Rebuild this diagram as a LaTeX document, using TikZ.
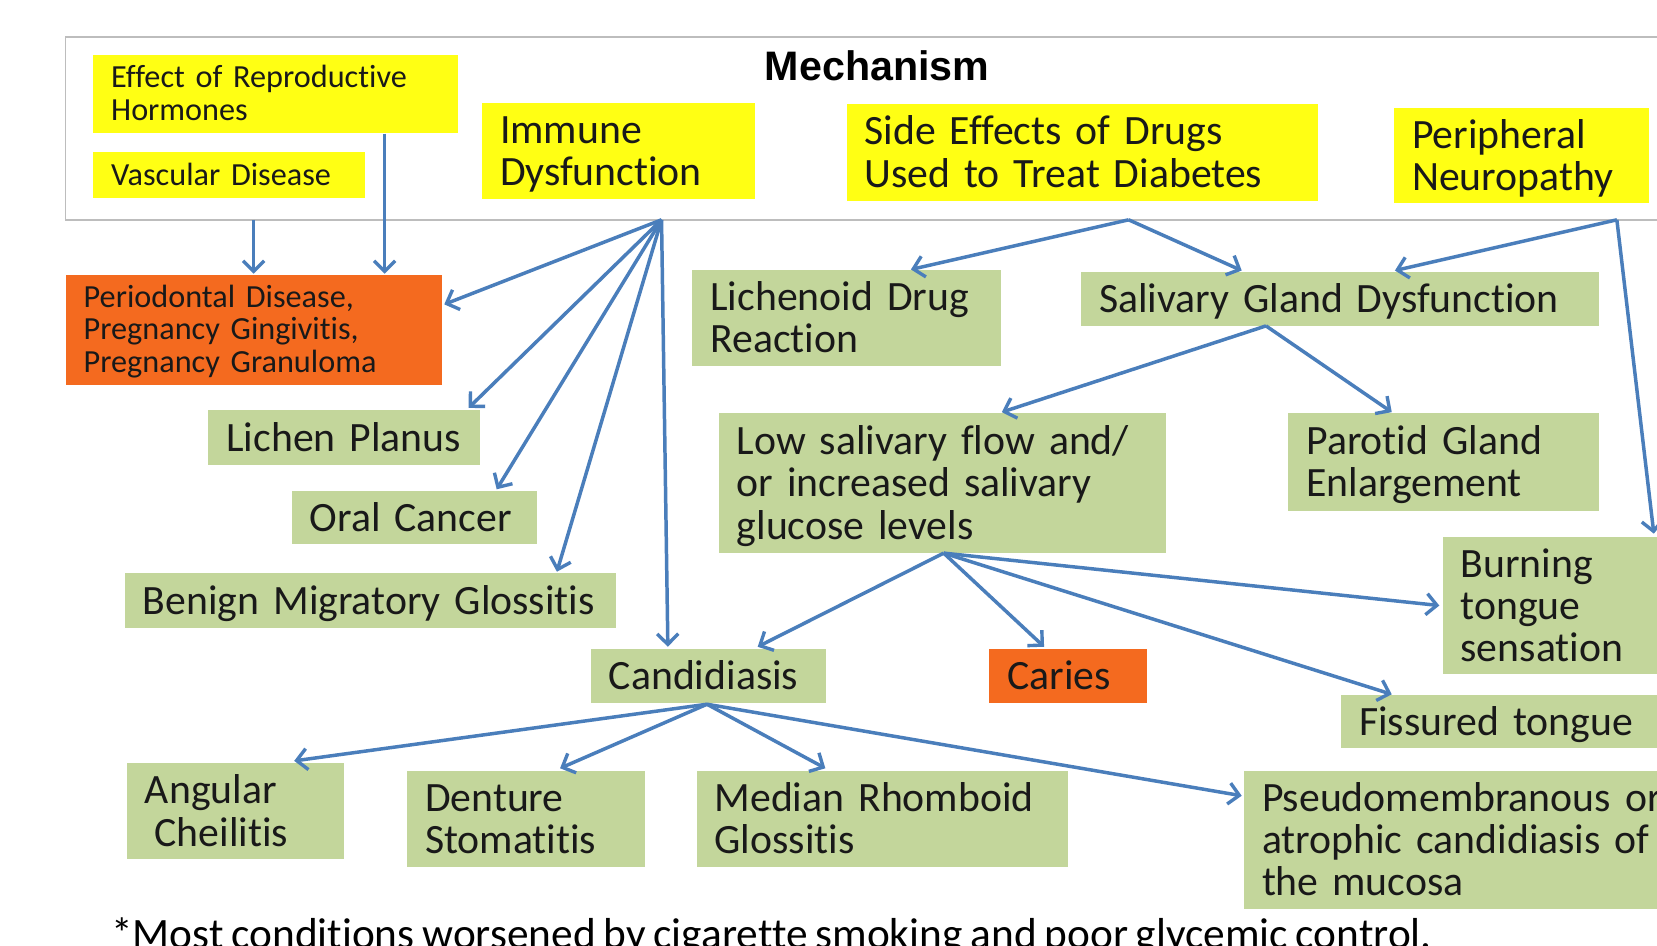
\documentclass[tikz,border=0pt]{standalone}
\usepackage{fontspec}
\setmainfont{Carlito}[Ligatures=NoCommon, WordSpace=0.8]
\newfontfamily\titlefont{Liberation Sans}
\usetikzlibrary{arrows.meta,calc}
\definecolor{ybox}{HTML}{FFFF14}
\definecolor{gbox}{HTML}{C3D69B}
\definecolor{obox}{HTML}{F46A1F}
\definecolor{arrowblue}{HTML}{4A7EBB}
\definecolor{framegray}{HTML}{BDBDBD}
\newcommand\bigf{\fontsize{39.5}{40}\selectfont\lineskiplimit=-100pt}
\newcommand\smallf{\fontsize{30.5}{31}\selectfont\lineskiplimit=-100pt}
\tikzset{
  boxbase/.style={anchor=north west, align=left, inner xsep=17pt, inner ysep=0pt, text=black!90},
  yb/.style={boxbase, fill=ybox},
  gb/.style={boxbase, fill=gbox, font=\bigf},
  ob/.style={boxbase, fill=obox},
  bl1/.style={text height=27pt, text depth=1pt},
  bl2/.style={text height=27pt, text depth=41pt},
  bl3/.style={text height=27pt, text depth=81pt},
  sl1/.style={text height=20pt, text depth=1pt},
  sl2/.style={text height=20pt, text depth=32pt},
  sl3/.style={text height=20pt, text depth=63pt},
  arr/.style={draw=arrowblue, line width=3.3pt, -{Straight Barb[length=10pt,width=20pt,line width=3.2pt]}},
}
\begin{document}
\begin{tikzpicture}[x=1pt,y=-1pt]
\clip (0,0) rectangle (1568,895);
\fill[white] (0,0) rectangle (1568,895);
% mechanism frame
\draw[framegray, line width=1.6pt] (1600,35) -- (62,35) -- (62,208) -- (1600,208);
\node[font=\titlefont\bfseries\fontsize{39}{40}\selectfont, anchor=center] (title) at (830,62) {Mechanism};
% yellow mechanism boxes
\node[yb, sl2, font=\smallf, text width=311pt, minimum height=74pt] (eff) at (88,52) {Effect of Reproductive\\Hormones};
\node[yb, sl1, font=\smallf, text width=223pt, minimum height=43pt] (vasc) at (88,144) {Vascular Disease};
\node[yb, bl2, font=\bigf, text width=224pt, minimum height=91pt] (imm) at (456,97) {Immune\\Dysfunction};
\node[yb, bl2, font=\bigf, text width=412pt, minimum height=92pt] (side) at (801,98) {Side Effects of Drugs\\Used to Treat Diabetes};
\node[yb, bl2, font=\bigf, text width=207pt, minimum height=90pt] (peri) at (1319,102) {Peripheral\\Neuropathy};
% hubs on frame bottom
\coordinate (vhub) at (240,208);
\coordinate (ihub) at (626,208);
\coordinate (shub) at (1068,208);
\coordinate (phub) at (1530,208);
% conditions
\node[ob, sl3, font=\smallf, text width=322pt, minimum height=104pt] (perio) at (62,260) {Periodontal Disease,\\Pregnancy Gingivitis,\\Pregnancy Granuloma};
\node[gb, bl1, text width=223pt, minimum height=52pt] (lp) at (197,388) {Lichen Planus};
\node[gb, bl1, text width=198pt, minimum height=51pt] (oc) at (276,464) {Oral Cancer};
\node[gb, bl1, text width=431pt, minimum height=52pt] (bmg) at (118,542) {Benign Migratory Glossitis};
\node[gb, bl2, text width=258pt, minimum height=91pt] (lich) at (655,255) {Lichenoid Drug\\Reaction};
\node[gb, bl1, text width=456pt, minimum height=51pt] (sal) at (1023,257) {Salivary Gland Dysfunction};
\node[gb, bl3, text width=389pt, minimum height=132pt] (low) at (680,391) {Low salivary flow and/\\or increased salivary\\glucose levels};
\node[gb, bl2, text width=260pt, minimum height=92pt] (par) at (1219,391) {Parotid Gland\\Enlargement};
\node[gb, bl3, text width=200pt, minimum height=130pt] (burn) at (1365,508) {Burning\\tongue\\sensation};
\node[gb, bl1, text width=188pt, minimum height=51pt] (cand) at (559,614) {Candidiasis};
\node[ob, bl1, font=\bigf, text width=115pt, minimum height=51pt] (car) at (936,614) {Caries};
\node[gb, bl1, text width=300pt, minimum height=51pt] (fis) at (1269,657) {Fissured tongue};
\node[gb, bl2, text width=171pt, minimum height=91pt] (ang) at (120,722) {Angular\\\hspace*{9pt}Cheilitis};
\node[gb, bl2, text width=191pt, minimum height=91pt] (den) at (385,729) {Denture\\Stomatitis};
\node[gb, bl2, text width=317pt, minimum height=91pt] (med) at (659,729) {Median Rhomboid\\Glossitis};
\node[gb, bl3, text width=420pt, minimum height=131pt] (pse) at (1177,729) {Pseudomembranous or\\atrophic candidiasis of\\the mucosa};
% footnote
\node[font=\fontsize{41}{42}\selectfont, anchor=base west, inner sep=0pt] (note) at (105,898) {*Most conditions worsened by cigarette smoking and poor glycemic control.};
% arrows
\draw[arr] (vhub) -- ($(perio.north west)+(178,-1)$);
\draw[arr] ($(eff.south west)+(276,0)$) -- ($(perio.north west)+(302,-1)$);
\draw[arr] (ihub) -- ($(perio.north east)+(2,28)$);
\draw[arr] (ihub) -- ($(lp.north east)+(-11,-2)$);
\draw[arr] (ihub) -- ($(oc.north west)+(194,-1)$);
\draw[arr] (ihub) -- ($(bmg.north west)+(409,-1)$);
\draw[arr] (ihub) -- ($(cand.north west)+(73,-2)$);
\draw[arr] (shub) -- ($(lich.north west)+(207,0)$);
\draw[arr] (shub) -- ($(sal.north west)+(152,-1)$);
\draw[arr] (phub) -- ($(sal.north west)+(297,-1)$);
\draw[arr] (phub) -- ($(burn.north west)+(200,-3)$);
\draw[arr] ($(sal.south west)+(175,0)$) -- ($(low.north west)+(268,-1)$);
\draw[arr] ($(sal.south west)+(175,0)$) -- ($(par.north west)+(98,-1)$);
\draw[arr] ($(low.south west)+(213,0)$) -- ($(cand.north west)+(158,-2)$);
\draw[arr] ($(low.south west)+(213,0)$) -- ($(car.north west)+(52,-2)$);
\draw[arr] ($(low.south west)+(213,0)$) -- ($(burn.north west)+(-3,65)$);
\draw[arr] ($(low.south west)+(213,0)$) -- ($(fis.north west)+(48,0)$);
\draw[arr] ($(cand.south west)+(110,1)$) -- ($(ang.north east)+(-47,-2)$);
\draw[arr] ($(cand.south west)+(110,1)$) -- ($(den.north west)+(145,-2)$);
\draw[arr] ($(cand.south west)+(110,1)$) -- ($(med.north west)+(122,-2)$);
\draw[arr] ($(cand.south west)+(110,1)$) -- ($(pse.north west)+(-2,24)$);
\end{tikzpicture}
\end{document}
